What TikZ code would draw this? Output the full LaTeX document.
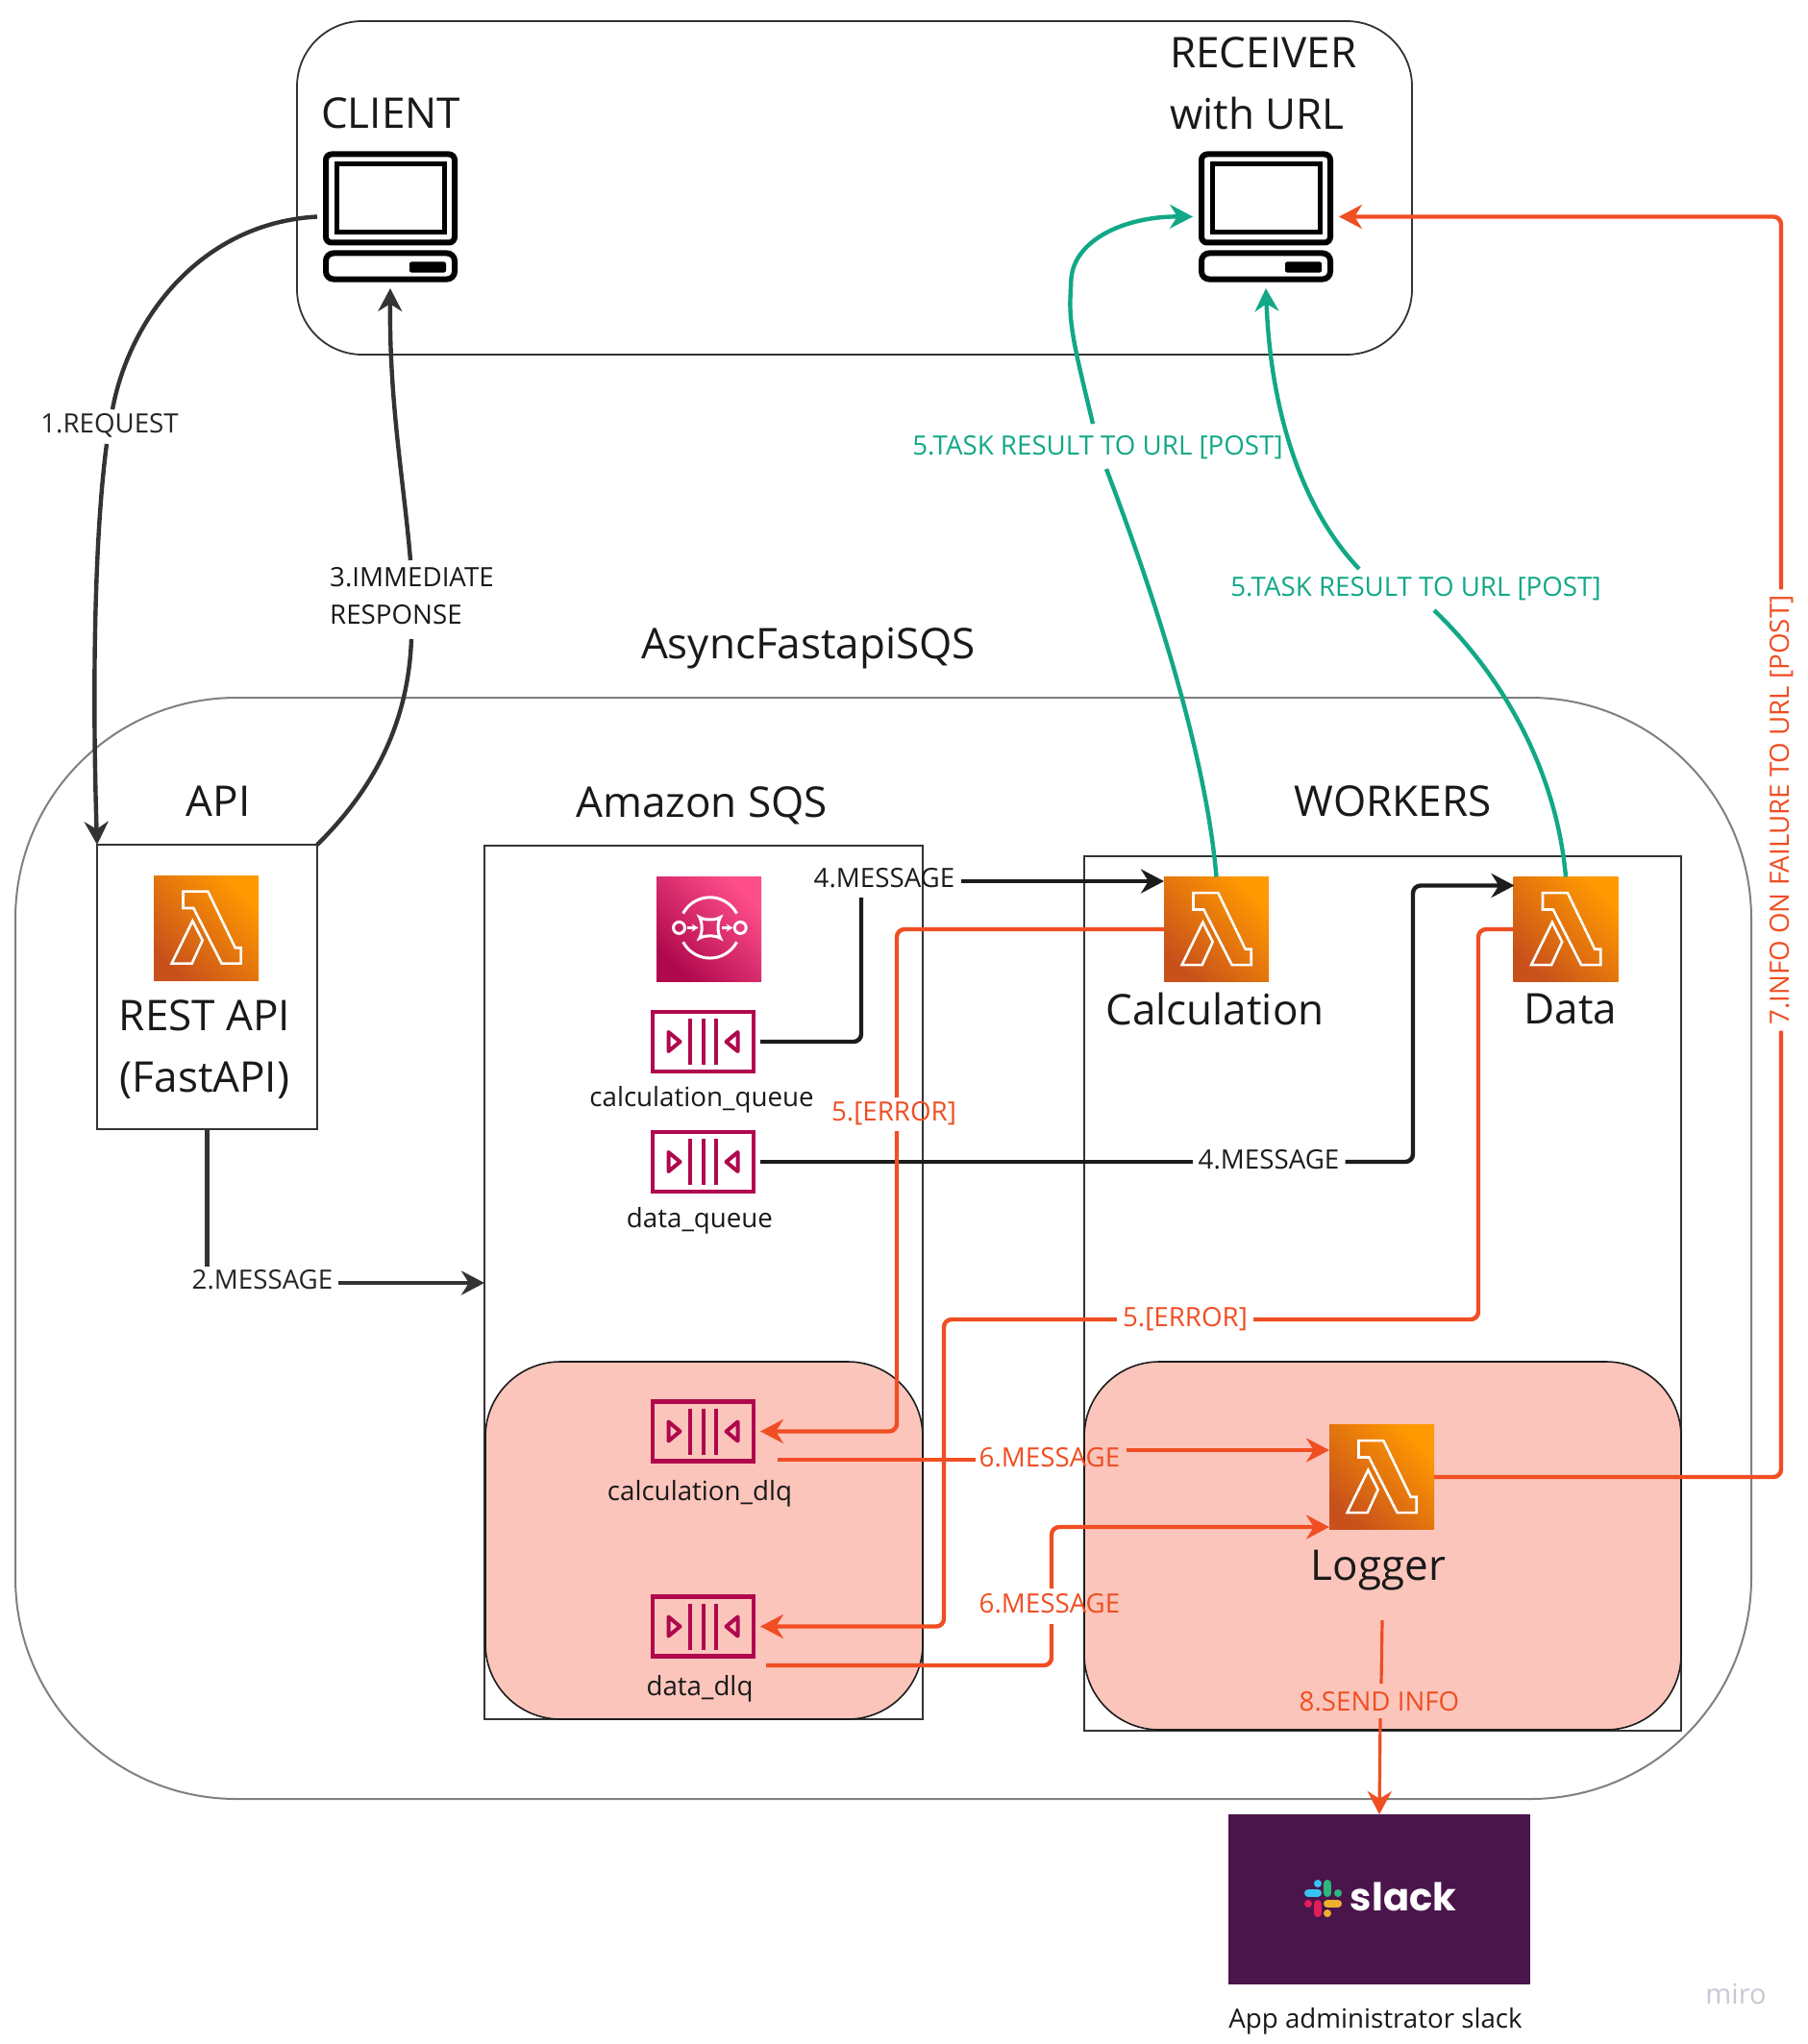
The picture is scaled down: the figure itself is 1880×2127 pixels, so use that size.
\documentclass[tikz,border=0pt]{standalone}
\usepackage{fontspec}
\setmainfont{Open Sans}
\newfontfamily\slackfont{Poppins}
\usetikzlibrary{arrows.meta,calc}
\definecolor{redc}{HTML}{F04E23}
\definecolor{greenc}{HTML}{12A887}
\definecolor{darkc}{HTML}{333333}
\definecolor{blackc}{HTML}{1C1C1C}
\definecolor{pinkc}{HTML}{FBC5BB}
\definecolor{qcol}{HTML}{B0084D}
\definecolor{slackbg}{HTML}{4A154B}
\definecolor{miroc}{HTML}{C9C9D6}
\definecolor{skblue}{HTML}{36C5F0}
\definecolor{skgreen}{HTML}{2EB67D}
\definecolor{skyellow}{HTML}{ECB22E}
\definecolor{skred}{HTML}{E01E5A}
\definecolor{LambA}{HTML}{C8511B}
\definecolor{LambB}{HTML}{FF9900}
\definecolor{SqsA}{HTML}{B0084D}
\definecolor{SqsB}{HTML}{FF4F8B}
\tikzset{
  big/.style={font=\fontsize{44}{50}\selectfont,text=black!90,inner sep=0pt},
  small/.style={font=\fontsize{27.7}{39}\selectfont,text=black!90,inner sep=0pt},
  lab/.style={font=\fontsize{27.7}{39}\selectfont,inner sep=0pt,text height=20pt,text depth=3pt},
  conn/.style={line width=4.4pt,rounded corners=8pt},
  tip/.style={-{Stealth[length=24pt,width=25pt]}},
  pinkbox/.style={draw=blackc,line width=1.6pt,fill=pinkc,rounded corners=78pt},
  lamb/.style={minimum size=109pt,inner sep=0pt,outer sep=0pt,shading=axis,bottom color=LambA,top color=LambB,shading angle=-45},
  sqs/.style={minimum size=109pt,inner sep=0pt,outer sep=0pt,shading=axis,bottom color=SqsA,top color=SqsB,shading angle=-45},
  queue/.style={minimum width=109pt,minimum height=66pt,inner sep=0pt,outer sep=5pt},
  comp/.style={minimum width=138pt,minimum height=135pt,inner sep=0pt,outer sep=7pt},
  ql/.style={draw=qcol,line width=4pt},
  sk/.style={line width=8pt,line cap=round},
}
\newcommand{\lambdaicon}[3]{%
  \node[lamb] (#1) at (#2,#3) {};
  \begin{scope}[shift={(#1.north west)},x=109pt,y=-109pt,white,line width=2.6pt,line join=miter]
    \draw (0.28,0.153) -- (0.517,0.153) -- (0.777,0.69) -- (0.832,0.69) -- (0.832,0.84) -- (0.648,0.84) -- (0.379,0.312) -- (0.28,0.312) -- cycle;
    \draw (0.37,0.434) -- (0.465,0.62) -- (0.364,0.84) -- (0.171,0.84) -- cycle;
  \end{scope}}
\newcommand{\queueicon}[3]{%
  \node[queue] (#1) at (#2,#3) {};
  \begin{scope}[shift={(#2,#3)}]
    \draw[ql,line width=4.4pt] (-52.5,-31) rectangle (52.5,31);
    \draw[ql] (-14,-24) -- (-14,24) (0,-24) -- (0,24) (13.5,-24) -- (13.5,24);
    \draw[ql,line join=round] (-36,-10) -- (-24,0) -- (-36,10) -- cycle;
    \draw[ql,line join=round] (36,-10) -- (24,0) -- (36,10) -- cycle;
  \end{scope}}
\newcommand{\compicon}[3]{%
  \node[comp] (#1) at (#2,#3) {};
  \begin{scope}[shift={(#2,#3)},black]
    \draw[line width=6pt,rounded corners=6pt] (-67,-65) rectangle (67,27);
    \draw[line width=5pt] (-56,-55) rectangle (56,16);
    \draw[line width=6pt,rounded corners=8pt] (-67,38) rectangle (67,65);
    \fill[rounded corners=2pt] (20,47) rectangle (58,58);
  \end{scope}}
\begin{document}
\begin{tikzpicture}[x=1pt,y=-1pt]
\useasboundingbox (0,0) rectangle (1880,2127);
\fill[white] (0,0) rectangle (1880,2127);
% containers
\draw[draw=darkc,line width=1.8pt,rounded corners=68pt] (309,22) rectangle (1469,369);
\draw[draw=black!50,line width=2pt,rounded corners=230pt] (16,726) rectangle (1822,1872);
\node[draw=darkc,line width=2pt,minimum width=229pt,minimum height=296pt,inner sep=0pt,outer sep=0pt] (apibox) at (215.5,1027) {};
\node[draw=darkc,line width=2pt,minimum width=456pt,minimum height=909pt,inner sep=0pt,outer sep=0pt] (sqsbox) at (732,1334.5) {};
\node[draw=darkc,line width=2pt,minimum width=621pt,minimum height=910pt,inner sep=0pt,outer sep=0pt] (wrkbox) at (1438.5,1346) {};
\draw[pinkbox] (505,1417) rectangle (960,1789);
\draw[pinkbox] (1128,1417) rectangle (1749,1800);
% group titles
\node[big,anchor=west] (tclient) at (334,118) {CLIENT};
\node[big,anchor=west] (trecv) at (1217,55) {RECEIVER};
\node[big,anchor=west] (turl) at (1217,118) {with URL};
\node[big] (tasync) at (841,675) {AsyncFastapiSQS};
\node[big] (tapi) at (227,834) {API};
\node[big] (tsqs) at (730,838) {Amazon SQS};
\node[big] (twrk) at (1449,834) {WORKERS};
\node[big] (trest) at (213,1057) {REST API};
\node[big] (tfast) at (213,1124) {(FastAPI)};
\node[big] (tcalc) at (1264,1050) {Calculation};
\node[big] (tdata) at (1634,1050) {Data};
\node[big] (tlog) at (1434,1634) {Logger};
\node[small] (tq1) at (730,1144) {calculation\_queue};
\node[small] (tq2) at (728,1270) {data\_queue};
\node[small] (tq3) at (728,1554) {calculation\_dlq};
\node[small] (tq4) at (728,1757) {data\_dlq};
\node[small] (tslack) at (1431,2103) {App administrator slack};
\node[font=\fontsize{29}{30}\selectfont,text=miroc,inner sep=0pt] (miro) at (1806,2075) {miro};
% icons
\compicon{client}{406}{225.5}
\compicon{recv}{1317}{225.5}
\lambdaicon{rest}{214.5}{965.5}
\lambdaicon{calc}{1265.5}{967}
\lambdaicon{data}{1629}{967}
\lambdaicon{logger}{1437.5}{1537}
\node[sqs] (sqsicon) at (737.5,966.5) {};
\begin{scope}[shift={(sqsicon.north west)},x=109pt,y=-109pt,white,line width=3pt]
  \draw (0.51,0.49) ++(152:0.29) arc[start angle=152,end angle=28,radius=0.29];
  \draw (0.51,0.49) ++(208:0.29) arc[start angle=208,end angle=332,radius=0.29];
  \draw (0.216,0.49) circle[radius=0.055];
  \draw (0.80,0.49) circle[radius=0.055];
  \draw (0.41,0.39) .. controls (0.46,0.42) and (0.56,0.42) .. (0.61,0.39)
     .. controls (0.58,0.44) and (0.58,0.54) .. (0.61,0.59)
     .. controls (0.56,0.56) and (0.46,0.56) .. (0.41,0.59)
     .. controls (0.44,0.54) and (0.44,0.44) .. (0.41,0.39) -- cycle;
  \draw[line width=2.4pt,-{Stealth[length=7pt,width=8pt]}] (0.29,0.49) -- (0.4,0.49);
  \draw[line width=2.4pt,-{Stealth[length=7pt,width=8pt]}] (0.62,0.49) -- (0.73,0.49);
\end{scope}
\queueicon{q1}{731.5}{1084}
\queueicon{q2}{731.5}{1209}
\queueicon{q3}{731.5}{1489.5}
\queueicon{q4}{731.5}{1692.5}
% slack
\node[fill=slackbg,minimum width=314pt,minimum height=177pt,inner sep=0pt,outer sep=0pt] (slack) at (1435,1976.5) {};
\node[font=\fontsize{40}{48}\slackfont\bfseries,text=white,inner sep=0pt,anchor=base] (slacktxt) at (1460,1988) {slack};
\draw[sk,skblue] (1361,1970) -- (1371,1970) (1371,1960) -- (1371,1960.01);
\draw[sk,skgreen] (1381,1960) -- (1381,1970) (1392,1970) -- (1392,1970.01);
\draw[sk,skyellow] (1381,1981) -- (1392,1981) (1381,1991) -- (1381,1991.01);
\draw[sk,skred] (1371,1981) -- (1371,1991) (1361,1981) -- (1361,1981.01);
% labels
\node[lab,text=black!85] (l1) at (114,442) {1.REQUEST};
\node[small,align=left,anchor=west] (l3) at (343,620) {3.IMMEDIATE\\RESPONSE};
\node[lab,text=black!85] (l2) at (273,1333) {2.MESSAGE};
\node[lab,text=blackc] (l4a) at (920,915) {4.MESSAGE};
\node[lab,text=blackc] (l4b) at (1320,1208) {4.MESSAGE};
\node[lab,text=redc] (l5a) at (930,1158) {5.[ERROR]};
\node[lab,text=redc] (l5b) at (1233,1372) {5.[ERROR]};
\node[lab,text=redc] (l6a) at (1092,1518) {6.MESSAGE};
\node[lab,text=redc] (l6b) at (1092,1670) {6.MESSAGE};
\node[lab,text=redc] (l8) at (1435,1772) {8.SEND INFO};
\node[lab,text=greenc] (g5a) at (1142,465) {5.TASK RESULT TO URL [POST]};
\node[lab,text=greenc] (g5b) at (1473,612) {5.TASK RESULT TO URL [POST]};
\node[lab,text=redc,rotate=90] (l7) at (1853,843) {7.INFO ON FAILURE TO URL [POST]};
% dark connectors
\coordinate (a1) at (117,426);
\coordinate (a2) at (111,462);
\draw[conn,darkc] (client.west) .. controls (210,232) and (135,330) .. (a1);
\draw[conn,darkc,tip] (a2) .. controls (98,560) and (96,720) .. (apibox.north west);
\coordinate (b1) at (428,665);
\coordinate (b2) at (427,583);
\draw[conn,darkc] (apibox.north east) .. controls (395,815) and (425,745) .. (b1);
\draw[conn,darkc,tip] (b2) .. controls (420,500) and (405,420) .. (client.south);
\coordinate (c1) at (215.5,1318);
\draw[conn,darkc] (apibox.south) -- (c1);
\draw[conn,darkc,tip] ($(l2.east)+(6,2)$) -- ($(sqsbox.west |- l2.east)+(0,2)$);
\coordinate (d1) at (896,1084);
\coordinate (d2) at (896,934);
\draw[conn,blackc] (q1.east) -- (d1) -- (d2);
\coordinate (d3) at (calc.north west |- l4a.east);
\draw[conn,blackc,tip] ($(l4a.east)+(6,2)$) -- ($(d3)+(0,2)$);
\draw[conn,blackc] (q2.east) -- ($(l4b.west)+(-6,1)$);
\coordinate (e1) at (1470,1209);
\coordinate (e2) at (1470,921.5);
\draw[conn,blackc,tip] ($(l4b.east)+(6,1)$) -- (e1) -- (e2) -- ($(data.north west)+(1,9)$);
% green
\coordinate (f1) at (1151,488);
\coordinate (f2) at (1137,441);
\draw[conn,greenc] (calc.north) .. controls (1255,790) and (1205,630) .. (f1);
\draw[conn,greenc,tip] (f2) .. controls (1120,370) and (1112,340) .. (1114,300) .. controls (1116,250) and (1170,225) .. (recv.west);
\coordinate (h1) at (1492,635);
\coordinate (h2) at (1414,592);
\draw[conn,greenc] (data.north) .. controls (1620,810) and (1570,710) .. (h1);
\draw[conn,greenc,tip] (h2) .. controls (1355,530) and (1322,430) .. (recv.south);
% red
\coordinate (m1) at (933,967);
\coordinate (m2) at (933,1142);
\coordinate (m3) at (933,1177);
\coordinate (m4) at (933,1489.5);
\draw[conn,redc] (calc.west) -- (m1) -- (m2);
\draw[conn,redc,tip] (m3) -- (m4) -- (q3.east);
\coordinate (n1) at (1538,967);
\coordinate (n2) at (1538,1373);
\coordinate (n3) at (982,1373);
\coordinate (n4) at (982,1692.5);
\draw[conn,redc] (data.west) -- (n1) -- (n2) -- ($(l5b.east)+(6,1)$);
\draw[conn,redc,tip] ($(l5b.west)+(-6,1)$) -- (n3) -- (n4) -- (q4.east);
\coordinate (o1) at (809,1519);
\coordinate (o2) at (1172,1509);
\draw[conn,redc] (o1) -- ($(l6a.west)+(-4,1)$);
\draw[conn,redc,tip] (o2) -- ($(logger.west)+(0,-28)$);
\coordinate (p1) at (797,1733);
\coordinate (p2) at (1094,1733);
\coordinate (p3) at (1094,1690);
\coordinate (p4) at (1094,1653);
\coordinate (p5) at (1094,1589);
\draw[conn,redc] (p1) -- (p2) -- (p3);
\draw[conn,redc,tip] (p4) -- (p5) -- ($(logger.west)+(0,52)$);
\coordinate (s1) at (1853,1537);
\coordinate (s2) at (l7.center |- recv.east);
\draw[conn,redc] (logger.east) -- (s1) -- ($(l7.west)+(0,6)$);
\draw[conn,redc,tip] ($(l7.east)+(0,-6)$) -- (s2) -- (recv.east);
\coordinate (u1) at (1438,1686);
\coordinate (u2) at (1436,1788);
\coordinate (u3) at (1437,1752);
\draw[conn,redc,line width=3.2pt] (u1) -- (u3);
\draw[conn,redc,line width=3.2pt,tip] (u2) -- (slack.north);
\end{tikzpicture}
\end{document}
